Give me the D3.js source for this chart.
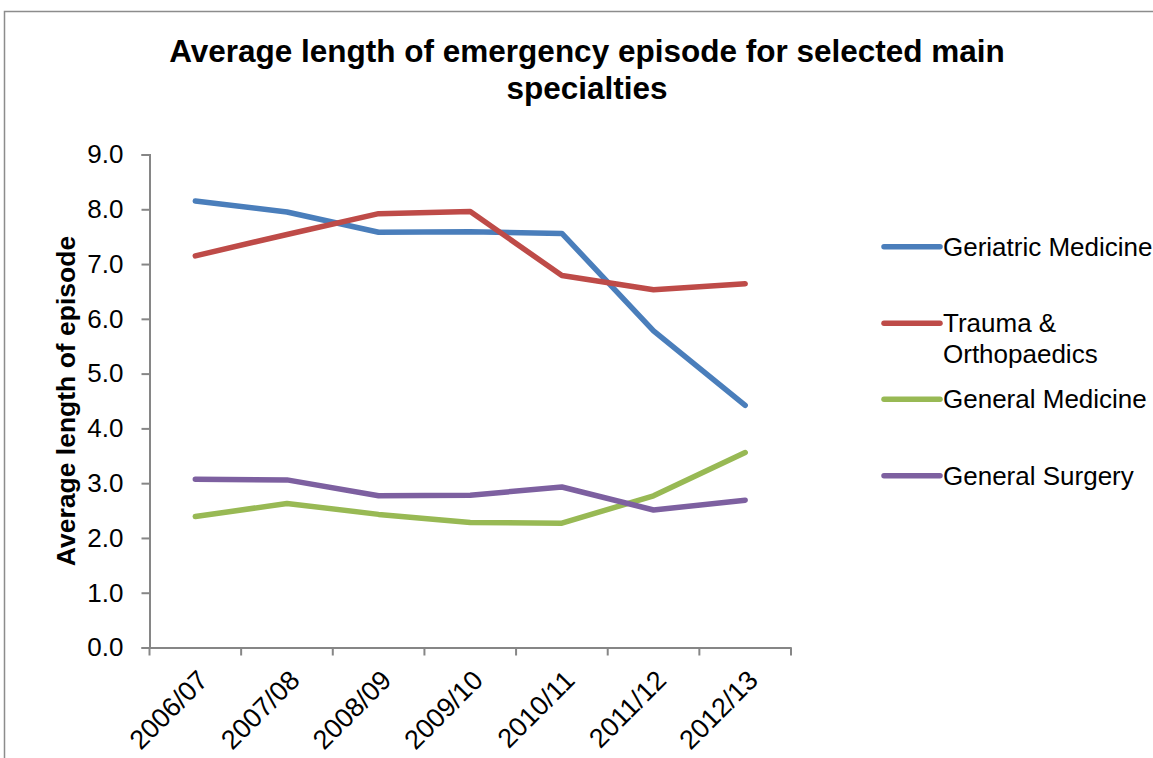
<!DOCTYPE html>
<html><head><meta charset="utf-8">
<script src="https://cdn.jsdelivr.net/npm/d3@7"></script>
<style>body{margin:0;background:#fff}svg{display:block;font-family:"Liberation Sans",Arial,sans-serif}</style>
</head><body><svg id="c" width="1153" height="758"></svg>
<script>
const categories = ["2006/07","2007/08","2008/09","2009/10","2010/11","2011/12","2012/13"];
const seriesNames = ["Geriatric Medicine","Trauma & Orthopaedics","General Medicine","General Surgery"];
const geriatric = [8.15,7.95,7.58,7.59,7.56,5.78,4.42];
const trauma = [7.15,7.54,7.92,7.96,6.79,6.53,6.64];
const generalMedicine = [2.39,2.63,2.43,2.28,2.27,2.77,3.56];
const generalSurgery = [3.07,3.06,2.77,2.78,2.93,2.51,2.69];
const yTicks = [0,1,2,3,4,5,6,7,8,9];
const colors = ["#4a7ebb","#be4b48","#98b954","#7d60a0"];
const legendLines = [["Geriatric Medicine"],["Trauma &","Orthopaedics"],["General Medicine"],["General Surgery"]];

const series = [geriatric, trauma, generalMedicine, generalSurgery];
const svg = d3.select("#c");

// outer frame
svg.append("rect").attr("x",4.5).attr("y",11.5).attr("width",1300).attr("height",900)
  .attr("fill","none").attr("stroke","#8c8c8c").attr("stroke-width",1.5);

const x0 = 149.5, x1 = 791, yTop = 154.5, yBot = 647.5;
const x = d3.scaleBand().domain(categories).range([x0,x1]);
const y = d3.scaleLinear().domain([0,9]).range([yBot,yTop]);

// title
const title = svg.append("text").attr("x",587).attr("text-anchor","middle")
  .attr("font-weight","bold").attr("font-size",31.5).attr("fill","#000");
title.append("tspan").attr("x",587).attr("y",62).text("Average length of emergency episode for selected main");
title.append("tspan").attr("x",587).attr("y",99).text("specialties");

// y axis
const yAxis = svg.append("g").attr("transform",`translate(${x0},0)`)
  .call(d3.axisLeft(y).tickValues(yTicks).tickFormat(d3.format(".1f")).tickSize(8).tickPadding(18));
yAxis.select(".domain").attr("stroke","#868686").attr("stroke-width",2);
yAxis.selectAll(".tick line").attr("stroke","#868686").attr("stroke-width",2);
yAxis.selectAll(".tick text").attr("font-size",26).attr("fill","#000")
  .attr("font-family","Liberation Sans, Arial, sans-serif");

// x axis
const xAxis = svg.append("g").attr("transform",`translate(0,${yBot})`)
  .call(d3.axisBottom(x).tickSize(0).tickFormat(""));
xAxis.select(".domain").attr("stroke","#868686").attr("stroke-width",2);
xAxis.selectAll(".tick").remove();
const bounds = categories.map(c=>x(c)).concat([x1]);
xAxis.selectAll("line.tk").data(bounds).enter().append("line").attr("class","tk")
  .attr("x1",d=>d).attr("x2",d=>d).attr("y1",0).attr("y2",8)
  .attr("stroke","#868686").attr("stroke-width",2);
svg.append("g").selectAll("text").data(categories).enter().append("text")
  .attr("transform",d=>`translate(${x(d)+x.bandwidth()/2+1},${yBot+21}) rotate(-45)`)
  .attr("text-anchor","end").attr("dy","0.7em").attr("font-size",27).attr("fill","#000").text(d=>d);

// y axis title
svg.append("text").attr("transform",`translate(75,401) rotate(-90)`)
  .attr("text-anchor","middle").attr("font-weight","bold").attr("font-size",26.5).attr("fill","#000")
  .text("Average length of episode");

// lines
const line = d3.line().x((d,i)=>x(categories[i])+x.bandwidth()/2).y(d=>y(d));
svg.append("g").selectAll("path").data(series).enter().append("path")
  .attr("d",line).attr("fill","none").attr("stroke",(d,i)=>colors[i])
  .attr("stroke-width",5.5).attr("stroke-linecap","round").attr("stroke-linejoin","round");

// legend
const legY = [246.7,323.3,399.3,475.7];
const lg = svg.append("g");
seriesNames.forEach((n,i)=>{
  lg.append("line").attr("x1",884).attr("x2",940).attr("y1",legY[i]).attr("y2",legY[i])
    .attr("stroke",colors[i]).attr("stroke-width",5.5).attr("stroke-linecap","round");
  const t = lg.append("text").attr("font-size",26).attr("fill","#000");
  legendLines[i].forEach((s,j)=>{
    t.append("tspan").attr("x",943).attr("y",legY[i]+9+j*31).text(s);
  });
});
</script></body></html>
